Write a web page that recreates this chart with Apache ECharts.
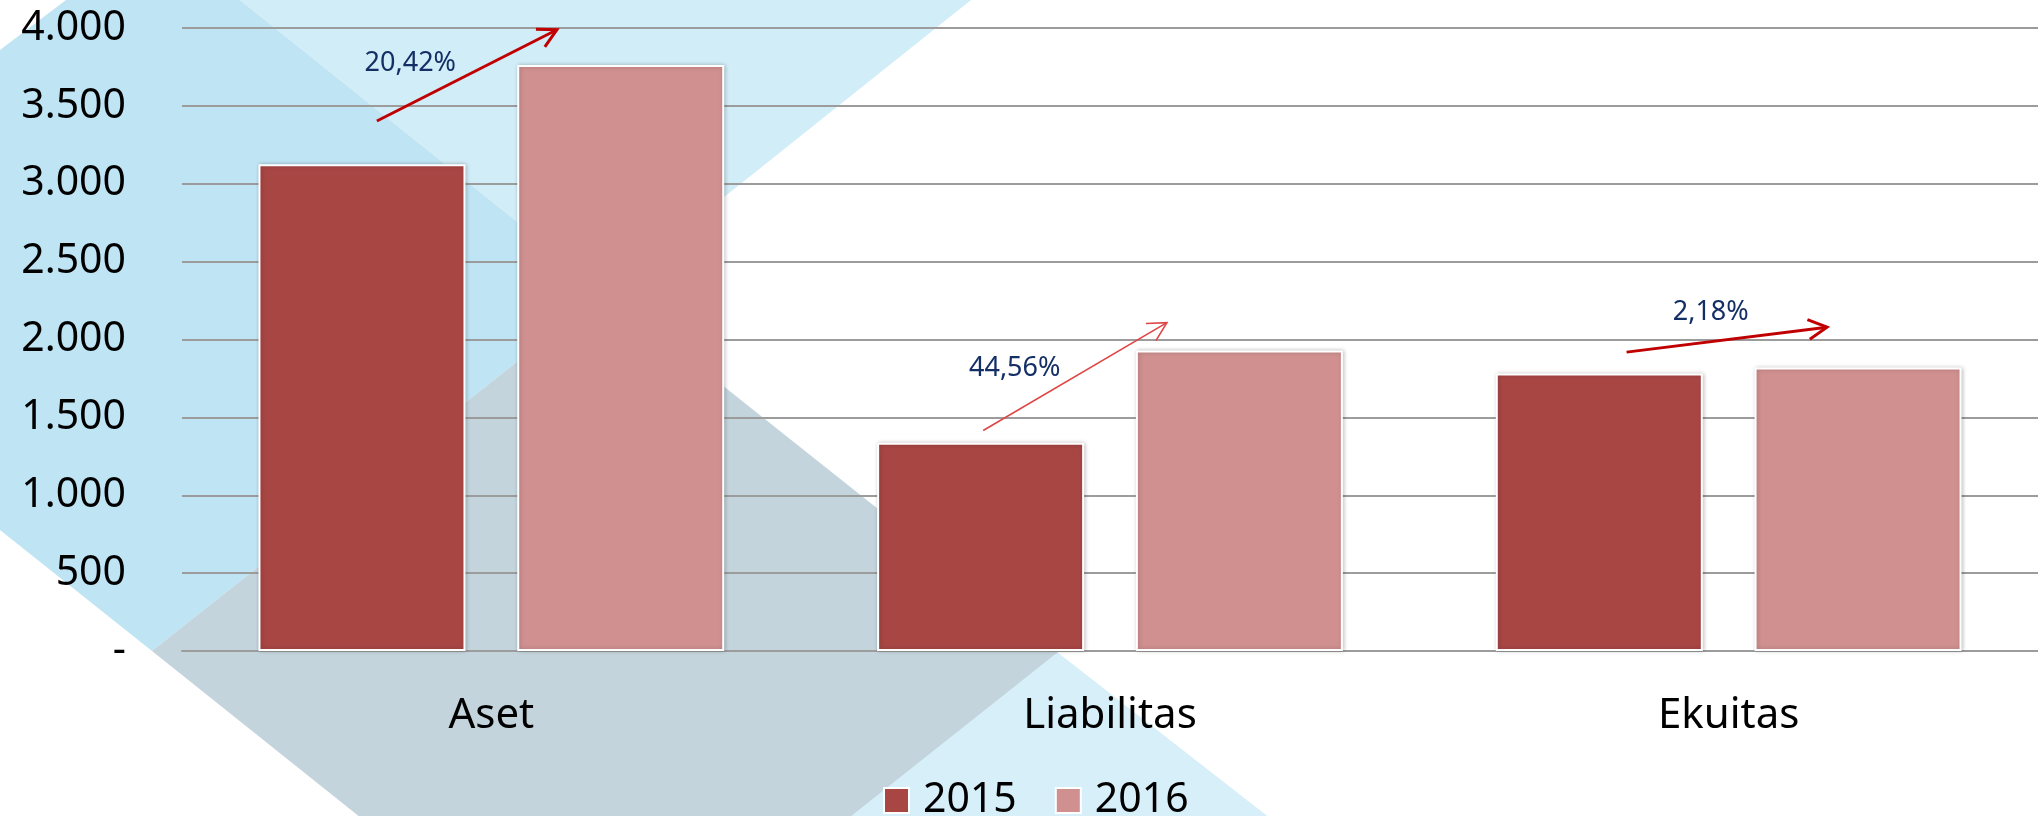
<!DOCTYPE html>
<html lang="id">
<head>
<meta charset="UTF-8">
<title>Aset, Liabilitas, Ekuitas 2015-2016</title>
<script src="https://cdn.jsdelivr.net/npm/echarts@6/dist/echarts.min.js"></script>
<style>
  html, body { margin: 0; padding: 0; background: #fff; }
  #chart { width: 2038px; height: 816px; }
</style>
</head>
<body>
<div id="chart"></div>
<script>
// data
var categories = ['Aset', 'Liabilitas', 'Ekuitas'];
var years = ['2015', '2016'];
var values2015 = [3125, 1337, 1781];
var values2016 = [3763, 1930, 1820];
var yMin = 0, yMax = 4000, yStep = 500;
var growthLabels = ['20,42%', '44,56%', '2,18%'];

// arrow anchors in data space: [category position, value]
var arrowFrom = [[-0.185, 3403], [0.795, 1416], [1.835, 1919]];
var arrowTo = [[0.106, 3989], [1.092, 2108], [2.159, 2079]];
var labelAt = [[-0.131, 3773], [0.846, 1814], [1.971, 2174]];

var FONT = '"Noto Sans", "Open Sans", sans-serif';

var chart = echarts.init(document.getElementById('chart'));

function fmtTick(v) {
  if (v === 0) return '-';
  return String(v).replace(/\B(?=(\d{3})+(?!\d))/g, '.');
}

// background shapes (decoration)
var bgShapes = [
  { pts: [[1057, 652], [1275, 822], [839, 822]], color: '#d6eff9' },
  { pts: [[0, 50], [66, 0], [240, 0], [605, 292], [152, 651], [0, 530]], color: '#bfe4f4' },
  { pts: [[240, 0], [971, 0], [605, 292]], color: '#d1edf7' },
  { pts: [[605, 292], [1058, 652], [604, 1012], [152, 651]], color: '#c3d4dc' }
];

chart.setOption({
  animation: false,
  backgroundColor: '#fff',
  grid: { left: 182, right: 0, top: 28, bottom: 165 },
  legend: {
    data: years,
    left: 878,
    top: 775,
    icon: 'rect',
    itemWidth: 25,
    itemHeight: 25,
    itemGap: 38,
    textStyle: { fontSize: 41, fontFamily: FONT, color: '#000', padding: [0, 0, 0, 9] }
  },
  xAxis: [{
    type: 'category',
    data: categories,
    axisLine: { lineStyle: { color: '#9c9c9c', width: 2 } },
    axisTick: { show: false },
    axisLabel: { fontSize: 42, fontFamily: FONT, color: '#000', margin: 44 }
  }, {
    type: 'value', min: -0.5, max: 2.5, show: false
  }],
  yAxis: {
    type: 'value',
    min: yMin, max: yMax, interval: yStep,
    axisLine: { show: false },
    axisTick: { show: false },
    splitLine: { lineStyle: { color: '#9c9c9c', width: 2 } },
    axisLabel: { fontSize: 41, fontFamily: FONT, color: '#000', margin: 56, formatter: fmtTick }
  },
  series: [{
    name: years[0], type: 'bar', data: values2015,
    barWidth: 207, barGap: '25%',
    itemStyle: { color: '#a84644', borderColor: '#fff', borderWidth: 2,
      shadowBlur: 4, shadowColor: 'rgba(0,0,0,0.22)', shadowOffsetX: 1 }
  }, {
    name: years[1], type: 'bar', data: values2016,
    barWidth: 207,
    itemStyle: { color: '#d09090', borderColor: '#fff', borderWidth: 2,
      shadowBlur: 4, shadowColor: 'rgba(0,0,0,0.22)', shadowOffsetX: 1 }
  }]
});

// annotations
var elements = [];
bgShapes.forEach(function (s) {
  elements.push({ type: 'polygon', z: -20, silent: true,
    shape: { points: s.pts }, style: { fill: s.color } });
});

var arrowColors = ['#c00000', '#e04545', '#c00000'];
var arrowWidths = [3, 1.6, 3];
function toPx(p) {
  return chart.convertToPixel({ xAxisIndex: 1, yAxisIndex: 0 }, p);
}
for (var i = 0; i < growthLabels.length; i++) {
  var a = toPx(arrowFrom[i]);
  var b = toPx(arrowTo[i]);
  var ang = Math.atan2(a[1] - b[1], a[0] - b[0]);
  var hl = 21, ha = 28 * Math.PI / 180;
  var h1 = [b[0] + hl * Math.cos(ang + ha), b[1] + hl * Math.sin(ang + ha)];
  var h2 = [b[0] + hl * Math.cos(ang - ha), b[1] + hl * Math.sin(ang - ha)];
  var st = { stroke: arrowColors[i], lineWidth: arrowWidths[i], fill: null };
  elements.push({ type: 'line', z: 10, silent: true,
    shape: { x1: a[0], y1: a[1], x2: b[0], y2: b[1] }, style: st });
  elements.push({ type: 'polyline', z: 10, silent: true,
    shape: { points: [h1, b, h2] }, style: st });
  var l = toPx(labelAt[i]);
  elements.push({ type: 'text', z: 10, silent: true, x: l[0], y: l[1],
    style: { text: growthLabels[i], fill: '#142f66', fontSize: 27, fontFamily: FONT,
      align: 'center', verticalAlign: 'middle', textAlign: 'center', textVerticalAlign: 'middle' } });
}
chart.setOption({ graphic: { elements: elements } });
</script>
</body>
</html>
